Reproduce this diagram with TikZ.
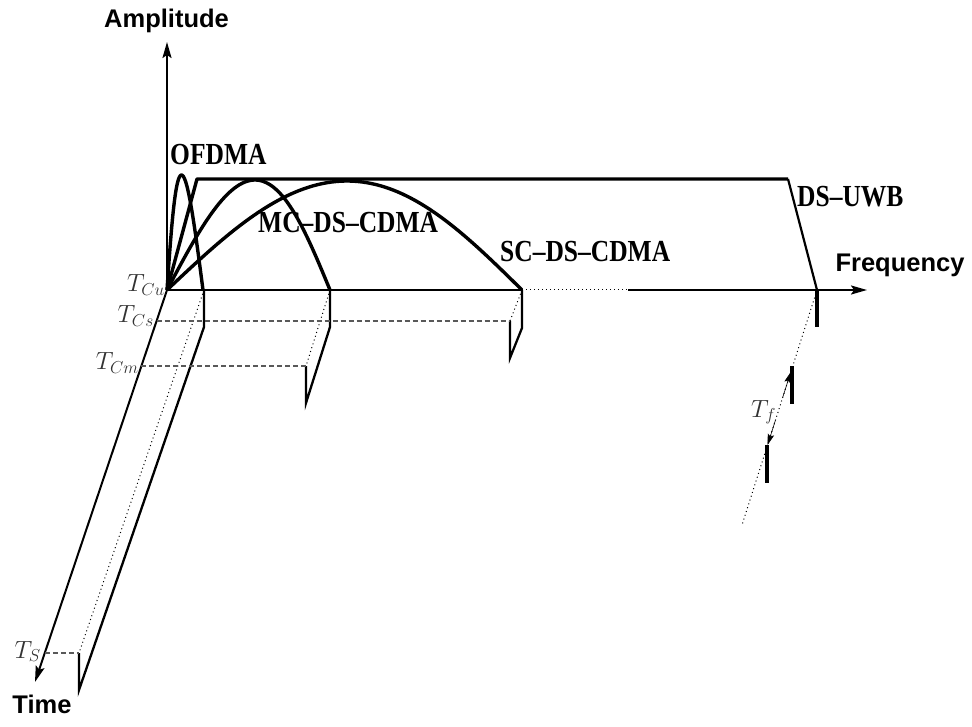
\documentclass[tikz,border=0pt]{standalone}
\usepackage{graphicx}
\usepackage{fontspec}
\newfontfamily\sansb{Liberation Sans}[Ligatures=TeX]
\newfontfamily\serifb{Liberation Serif}[Ligatures=TeX]
\DeclareMathSizes{24.88}{24.88}{17.28}{12}
\usetikzlibrary{arrows.meta}
\tikzset{
  axisline/.style={line width=2pt},
  axistip/.style={-{Stealth[length=16pt,width=9pt,inset=3pt]}},
  curve/.style={line width=3.4pt, line join=round},
  edgeline/.style={line width=2.3pt, line join=miter},
  timedash/.style={draw=black!65, line width=1.1pt, dash pattern=on 5pt off 3pt},
  timedot/.style={line width=1pt, dash pattern=on 1pt off 3pt},
  bar/.style={line width=4pt},
  tfarrow/.style={line width=0.6pt, -{Stealth[length=11pt,width=6.5pt,inset=2pt]}},
  axlabel/.style={font=\sansb\bfseries\fontsize{25.5}{30}\selectfont, inner sep=0pt},
  schlabel/.style={font=\serifb\bfseries\fontsize{25.5}{30}\selectfont, inner sep=0pt},
  tlabel/.style={text=black!80, font=\fontsize{24.88}{30}\selectfont, inner sep=0pt}
}
\newcommand{\tall}[1]{\scalebox{1}[1.2]{#1}}
\begin{document}
\begin{tikzpicture}[x=1pt,y=-1pt]
\useasboundingbox (0,0) rectangle (972,727);
% key points
\coordinate (O) at (167,290);
\coordinate (Atip) at (167,42);
\coordinate (Ftip) at (867,290);
\coordinate (Ttip) at (35,682);
\coordinate (Fsc) at (522,290);
\coordinate (Fdot) at (628,290);
% axes
\draw[axisline,axistip] (O) -- (Atip);
\draw[axisline] (O) -- (Fsc);
\draw[timedot] (Fsc) -- (Fdot);
\draw[axisline,axistip] (Fdot) -- (Ftip);
\draw[axisline,axistip] (O) -- (Ttip);
% time marks on the time axis
\coordinate (tcs) at (156.6,321);
\coordinate (tcm) at (141.4,366);
\coordinate (ts) at (44.8,653);
% OFDMA edge
\coordinate (Fo) at (204,290);
\coordinate (Fo1) at (204,327);
\coordinate (Fo2) at (79,690);
\coordinate (Fo3) at (79,653);
\draw[timedot] (Fo) -- (Fo3);
\draw[edgeline] (Fo) -- (Fo1) -- (Fo2) -- (Fo3);
\draw[timedash] (ts) -- (Fo3);
% MC-DS-CDMA edge
\coordinate (Fm) at (330,290);
\coordinate (Fm1) at (330,327);
\coordinate (Fm2) at (306,403);
\coordinate (Fm3) at (306,366);
\draw[timedot] (Fm) -- (Fm3);
\draw[edgeline] (Fm) -- (Fm1) -- (Fm2) -- (Fm3);
\draw[timedash] (tcm) -- (Fm3);
% SC-DS-CDMA edge
\coordinate (Fs1) at (522,328);
\coordinate (Fs2) at (510,358);
\coordinate (Fs3) at (510,321);
\draw[timedot] (Fsc) -- (Fs3);
\draw[edgeline] (Fsc) -- (Fs1) -- (Fs2) -- (Fs3);
\draw[timedash] (tcs) -- (Fs3);
% spectra
\draw[curve] plot[domain=0:1, samples=50, variable=\t]
  ({167+36*\t-3.5*sin(180*\t)}, {290-115*sin(180*\t)});
\draw[curve] plot[domain=0:1, samples=60, variable=\t]
  ({167+163*\t+6.5*sin(180*\t)}, {290-110*sin(180*\t)});
\draw[curve] plot[domain=0:1, samples=80, variable=\t]
  ({167+355*\t+2.5*sin(180*\t)}, {290-109*sin(180*\t)});
% DS-UWB trapezoid
\coordinate (U1) at (197,179);
\coordinate (U2) at (788,179);
\coordinate (U3) at (817,290);
\draw[curve] (O) -- (U1) -- (U2);
\draw[line width=2.2pt] (U2) -- (U3);
% DS-UWB pulses
\coordinate (P1) at (817,290);
\coordinate (P1b) at (817,327);
\coordinate (P2) at (792,366);
\coordinate (P2b) at (792,404);
\coordinate (P3) at (767,445);
\coordinate (P3b) at (767,483);
\coordinate (Pend) at (742,525);
\draw[timedot] (P1) -- (Pend);
\draw[bar] (P1) -- (P1b);
\draw[bar] (P2) -- (P2b);
\draw[bar] (P3) -- (P3b);
\coordinate (A1s) at (782.5,398);
\coordinate (A1e) at (790.8,372);
\coordinate (A2s) at (775.5,420);
\coordinate (A2e) at (767.6,445);
\draw[tfarrow] (A1s) -- (A1e);
\draw[tfarrow] (A2s) -- (A2e);
% labels
\node[axlabel, anchor=base] (lamp) at (166.5,28) {Amplitude};
\node[axlabel, anchor=base] (lfreq) at (900,272) {Frequency};
\node[axlabel, anchor=base] (ltime) at (42,713) {Time};
\node[schlabel, anchor=base west] (lofdma) at (170,165) {\tall{OFDMA}};
\node[schlabel, anchor=base west] (lmc) at (258,233) {\tall{MC\textendash DS\textendash CDMA}};
\node[schlabel, anchor=base west] (lsc) at (500,262) {\tall{SC\textendash DS\textendash CDMA}};
\node[schlabel, anchor=base west] (luwb) at (797,207) {\tall{DS\textendash UWB}};
\node[tlabel, anchor=base east] (lcu) at (165,292) {$T_{Cu}$};
\node[tlabel, anchor=base east] (lcs) at (154,323) {$T_{Cs}$};
\node[tlabel, anchor=base east] (lcm) at (139,370) {$T_{Cm}$};
\node[tlabel, anchor=base east] (lts) at (41,658) {$T_{S}$};
\node[tlabel, anchor=base west] (ltf) at (751,417) {$T_{f}$};
\end{tikzpicture}
\end{document}
